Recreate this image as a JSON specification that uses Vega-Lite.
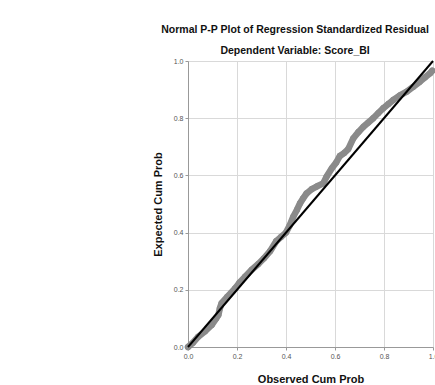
{
  "$schema": "https://vega.github.io/schema/vega-lite/v6.json",
  "autosize": {"type": "none"},
  "width": 245,
  "height": 286,
  "padding": {"left": 188, "top": 61, "right": 2, "bottom": 38},
  "background": "white",
  "title": {
    "text": "Normal P-P Plot of Regression Standardized Residual",
    "subtitle": "Dependent Variable: Score_BI",
    "anchor": "middle",
    "frame": "bounds",
    "font": "Liberation Sans",
    "fontSize": 10.5,
    "fontWeight": "bold",
    "color": "#111",
    "subtitleFont": "Liberation Sans",
    "subtitleFontSize": 10.5,
    "subtitleFontWeight": "bold",
    "subtitleColor": "#111",
    "subtitlePadding": 10,
    "offset": 1
  },
  "config": {
    "view": {"stroke": null},
    "axis": {
      "labelFont": "Liberation Sans",
      "labelFontSize": 7,
      "labelColor": "#555",
      "labelFlush": false,
      "gridColor": "#d9d9d9",
      "gridWidth": 1,
      "domainColor": "#999",
      "tickColor": "#999",
      "tickSize": 3,
      "titleFont": "Liberation Sans",
      "titleFontSize": 11,
      "titleFontWeight": "bold",
      "titleColor": "#111"
    }
  },
  "datasets": {
    "pp": [
      {"obs": 0.0, "exp": 0.0},
      {"obs": 0.02, "exp": 0.015},
      {"obs": 0.042, "exp": 0.036},
      {"obs": 0.07, "exp": 0.055},
      {"obs": 0.097, "exp": 0.077},
      {"obs": 0.115, "exp": 0.1},
      {"obs": 0.124, "exp": 0.112},
      {"obs": 0.13, "exp": 0.135},
      {"obs": 0.137, "exp": 0.153},
      {"obs": 0.16, "exp": 0.175},
      {"obs": 0.192, "exp": 0.205},
      {"obs": 0.21, "exp": 0.225},
      {"obs": 0.233, "exp": 0.246},
      {"obs": 0.26, "exp": 0.27},
      {"obs": 0.287, "exp": 0.29},
      {"obs": 0.31, "exp": 0.31},
      {"obs": 0.335, "exp": 0.335},
      {"obs": 0.36, "exp": 0.37},
      {"obs": 0.38, "exp": 0.385},
      {"obs": 0.4, "exp": 0.4},
      {"obs": 0.415, "exp": 0.425},
      {"obs": 0.43, "exp": 0.456},
      {"obs": 0.445, "exp": 0.48},
      {"obs": 0.457, "exp": 0.502},
      {"obs": 0.47, "exp": 0.52},
      {"obs": 0.484, "exp": 0.537},
      {"obs": 0.505, "exp": 0.552},
      {"obs": 0.525, "exp": 0.561},
      {"obs": 0.552, "exp": 0.572},
      {"obs": 0.566, "exp": 0.596},
      {"obs": 0.587, "exp": 0.625},
      {"obs": 0.605, "exp": 0.645},
      {"obs": 0.62, "exp": 0.668},
      {"obs": 0.637, "exp": 0.678},
      {"obs": 0.654, "exp": 0.692},
      {"obs": 0.675, "exp": 0.73},
      {"obs": 0.696, "exp": 0.752},
      {"obs": 0.716, "exp": 0.77},
      {"obs": 0.736, "exp": 0.785},
      {"obs": 0.756, "exp": 0.8},
      {"obs": 0.777, "exp": 0.818},
      {"obs": 0.797, "exp": 0.835},
      {"obs": 0.818, "exp": 0.85},
      {"obs": 0.838, "exp": 0.864},
      {"obs": 0.865, "exp": 0.88},
      {"obs": 0.893, "exp": 0.893},
      {"obs": 0.92, "exp": 0.91},
      {"obs": 0.947, "exp": 0.928},
      {"obs": 0.968, "exp": 0.943},
      {"obs": 0.988, "exp": 0.957},
      {"obs": 0.997, "exp": 0.966}
    ],
    "ref": [
      {"obs": 0.0, "exp": 0.0},
      {"obs": 1.0, "exp": 1.0}
    ]
  },
  "encoding": {
    "x": {
      "field": "obs",
      "type": "quantitative",
      "scale": {"domain": [0, 1], "nice": false},
      "axis": {"values": [0, 0.2, 0.4, 0.6, 0.8, 1.0], "format": ".1f", "title": "Observed Cum Prob", "titlePadding": 14}
    },
    "y": {
      "field": "exp",
      "type": "quantitative",
      "scale": {"domain": [0, 1], "nice": false},
      "axis": {"values": [0, 0.2, 0.4, 0.6, 0.8, 1.0], "format": ".1f", "title": "Expected Cum Prob", "titlePadding": 10}
    }
  },
  "layer": [
    {
      "data": {"name": "pp"},
      "mark": {"type": "line", "color": "#8a8a8a", "strokeWidth": 6.5, "strokeCap": "round", "strokeJoin": "round"}
    },
    {
      "data": {"name": "pp"},
      "mark": {"type": "point", "filled": true, "color": "#8a8a8a", "size": 38, "opacity": 1}
    },
    {
      "data": {"name": "ref"},
      "mark": {"type": "line", "color": "#000", "strokeWidth": 2}
    }
  ]
}
